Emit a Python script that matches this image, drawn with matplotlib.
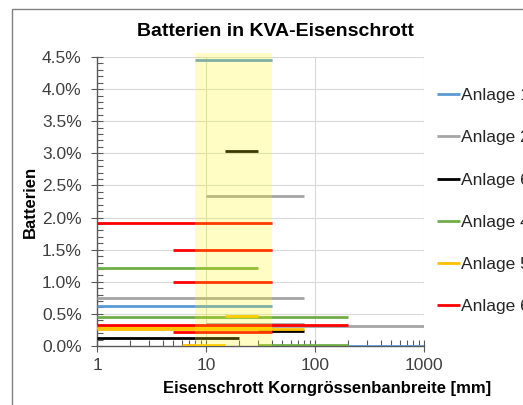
import matplotlib
matplotlib.use("Agg")
import matplotlib.pyplot as plt
import numpy as np
from matplotlib.ticker import FuncFormatter, MultipleLocator, LogLocator, NullFormatter
from matplotlib.patches import Rectangle

plt.rcParams['font.family'] = ['Liberation Sans', 'DejaVu Sans']

# Segments per plant: (x_start, x_end, battery share in %)
anlage1 = [(8, 40, 4.45), (1, 40, 0.63), (40, 1000, 0.0)]
anlage2 = [(10, 80, 2.33), (1, 80, 0.75), (1, 1000, 0.31), (10, 80, 0.35)]
anlage6_black = [(15, 30, 3.04), (30, 80, 0.23), (1, 20, 0.13)]
anlage4 = [(1, 30, 1.21), (1, 200, 0.45), (30, 200, 0.02)]
anlage5 = [(15, 30, 0.47), (1, 80, 0.27), (1, 40, 0.30), (6, 15, 0.02)]
anlage6_red = [(1, 40, 1.92), (5, 40, 1.50), (5, 40, 1.00), (1, 200, 0.33), (5, 40, 0.22)]

series_names = ["Anlage 1", "Anlage 2", "Anlage 6", "Anlage 4", "Anlage 5", "Anlage 6"]
series_data = [anlage1, anlage2, anlage6_black, anlage4, anlage5, anlage6_red]
series_colors = ["#5B9BD5", "#A5A5A5", "#000000", "#70AD47", "#FFC000", "#FF0000"]

band_range = (8, 40)

W, H = 523, 405
fig = plt.figure(figsize=(W / 100, H / 100), dpi=100)
ax = fig.add_axes([97 / W, 1 - 346 / H, (424 - 97) / W, (346 - 57) / H])

for name, segs, col in zip(series_names, series_data, series_colors):
    xs, ys = [], []
    for x0, x1, v in segs:
        xs += [x0, x1, np.nan]
        ys += [v / 100, v / 100, np.nan]
    ax.plot(xs, ys, color=col, lw=2.0, label=name, solid_capstyle='butt', zorder=3)

ax.axvspan(band_range[0], band_range[1], ymin=0, ymax=1.013, color=(1.0, 0.98, 0.0),
           alpha=0.23, lw=0, zorder=4, clip_on=False)

ax.set_xscale('log')
ax.set_xlim(1, 1000)
ax.set_ylim(0, 0.045)

ax.yaxis.set_major_locator(MultipleLocator(0.005))
ax.yaxis.set_minor_locator(MultipleLocator(0.001))
ax.yaxis.set_major_formatter(FuncFormatter(lambda v, p: f"{v*100:.1f}%"))
ax.xaxis.set_major_locator(LogLocator(base=10, numticks=10))
ax.xaxis.set_minor_locator(LogLocator(base=10, subs=np.arange(2, 10), numticks=10))
ax.xaxis.set_minor_formatter(NullFormatter())
ax.xaxis.set_major_formatter(FuncFormatter(lambda v, p: f"{v:g}"))

ax.grid(True, which='major', color='#D9D9D9', lw=0.8, zorder=0)
ax.set_axisbelow(True)
for s in ['top', 'right']:
    ax.spines[s].set_visible(False)
for s in ['left', 'bottom']:
    ax.spines[s].set_color('#595959')
    ax.spines[s].set_linewidth(1.0)

ax.tick_params(axis='both', which='major', direction='inout', length=8, width=0.8,
               color='#595959', labelsize=12.5, labelcolor='#404040', pad=7)
ax.tick_params(axis='both', which='minor', direction='in', length=4, width=0.8, color='#595959')
ax.tick_params(axis='x', which='major', pad=5)

ax.set_ylabel("Batterien", fontsize=12, fontweight='bold', labelpad=3)
fig.text(327 / W, 1 - 388 / H, "Eisenschrott Korngrössenbanbreite [mm]", fontsize=12,
         fontweight='bold', ha='center', va='center')
fig.text(275 / W, 1 - 32 / H, "Batterien in KVA-Eisenschrott", fontsize=14,
         fontweight='bold', ha='center', va='center')

leg = fig.legend(loc='upper left', bbox_to_anchor=(437 / W, 1 - 88 / H), frameon=False,
                 fontsize=12.5, handlelength=1.3, handletextpad=0.1, labelspacing=1.56,
                 borderaxespad=0, borderpad=0)
for t in leg.get_texts():
    t.set_color('#262626')

fig.patches.append(Rectangle((12 / W, -0.1), 1.0, 1 - 9 / H + 0.1, transform=fig.transFigure,
                             fill=False, edgecolor='#808080', lw=1.0, clip_on=False))

fig.savefig("out.png", dpi=100)
